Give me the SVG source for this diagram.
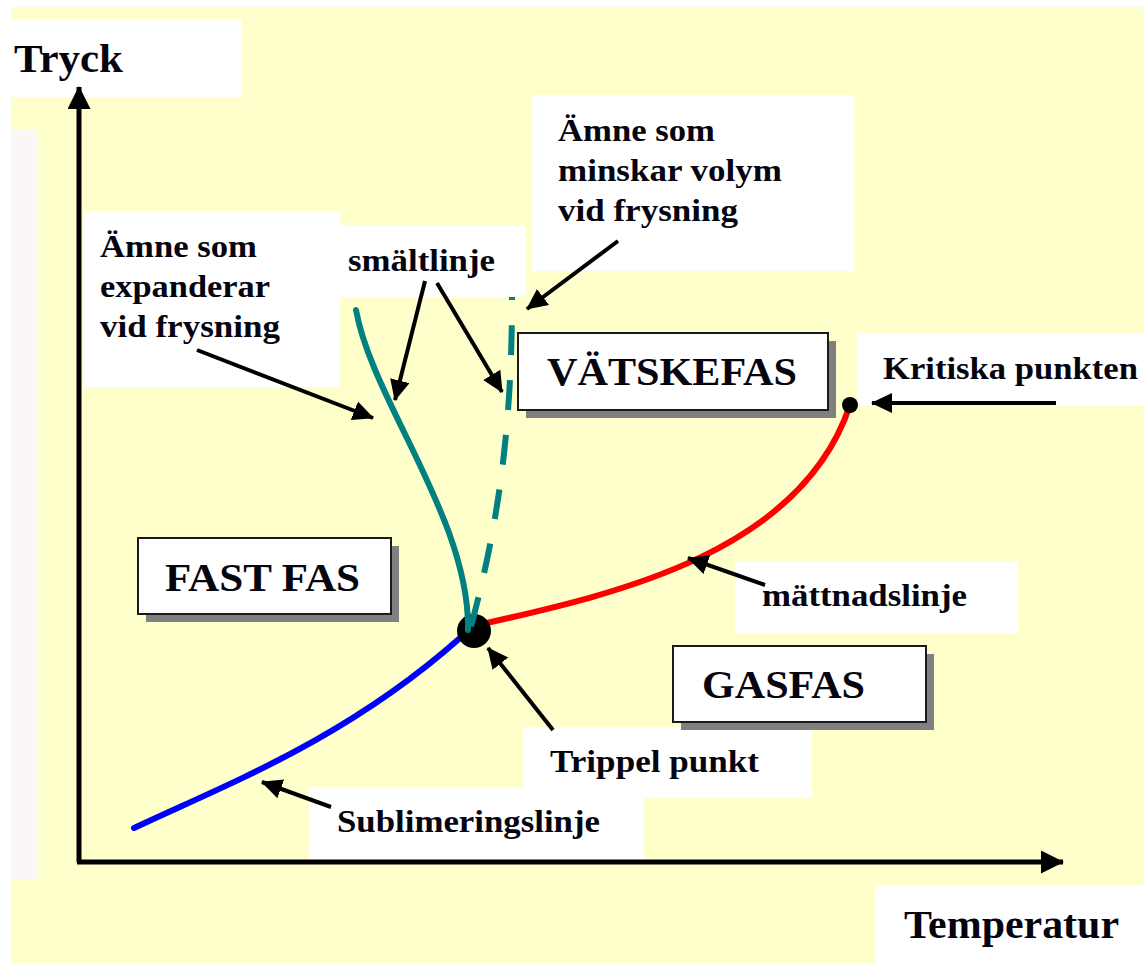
<svg xmlns="http://www.w3.org/2000/svg" width="1144" height="963" viewBox="0 0 1144 963">
<style>
.lbl{font-family:"Liberation Serif","Times New Roman",serif;font-weight:bold;font-size:31px;fill:#050510}
.big{font-family:"Liberation Serif","Times New Roman",serif;font-weight:bold;font-size:41px;fill:#050510}
.wb{fill:#ffffff}
.phase{fill:#ffffff;stroke:#1a1a1a;stroke-width:2}
.shadow{fill:#808080}
.arr{stroke:#000;stroke-width:4;fill:none;marker-end:url(#ah)}
.axis{stroke:#000;stroke-width:5;fill:none}
.teal{stroke:#008080;stroke-width:6;fill:none}
</style>
<defs>
<marker id="ah" markerUnits="userSpaceOnUse" markerWidth="22" markerHeight="22" refX="20" refY="10" orient="auto">
<path d="M0,0 L21,10 L0,20 z" fill="#000"/>
</marker>
<marker id="axh" markerUnits="userSpaceOnUse" markerWidth="24" markerHeight="24" refX="22" refY="11.5" orient="auto">
<path d="M0,0 L23,11.5 L0,23 z" fill="#000"/>
</marker>
</defs>
<rect x="0" y="0" width="1144" height="963" fill="#ffffff"/>
<rect x="11" y="7" width="1133" height="956" fill="#ffffcc"/>
<rect x="11" y="129" width="26" height="751" fill="#faf7f6"/>

<g id="label-boxes">
<rect class="wb" x="11" y="19" width="231" height="78"/>
<rect class="wb" x="83" y="211" width="257" height="176"/>
<rect class="wb" x="340" y="225" width="186" height="72"/>
<rect class="wb" x="532" y="95" width="322" height="176"/>
<rect class="wb" x="857" y="333" width="287" height="72"/>
<rect class="wb" x="735" y="562" width="283" height="71"/>
<rect class="wb" x="523" y="727" width="289" height="71"/>
<rect class="wb" x="309" y="787" width="335" height="73"/>
<rect class="wb" x="875" y="885" width="269" height="78"/>
</g>

<g id="axes">
<path class="axis" d="M79,862 L79,87" marker-end="url(#axh)"/>
<path class="axis" d="M77,862 L1063,862" marker-end="url(#axh)"/>
</g>

<g id="connectors">
<path d="M134,828 C225,785 345,740 460,638" stroke="#0000ff" stroke-width="6" fill="none" stroke-linecap="round"/>
<path d="M478,625 C610,595 800,555 850,405" stroke="#ff0000" stroke-width="6" fill="none"/>
<circle cx="474" cy="631" r="17" fill="#000"/>
<path class="teal" d="M356,310 C372,400 470,520 468,630" stroke-linecap="round"/>
<path class="teal" d="M512,297 C512,420 500,520 470,630" stroke-dasharray="30 25" stroke-dashoffset="27"/>
<circle cx="850" cy="405" r="8" fill="#000"/>
<path class="arr" d="M197,350 L373,418"/>
<path class="arr" d="M425,281 L395,400"/>
<path class="arr" d="M437,283 L502,392"/>
<path class="arr" d="M618,241 L527,309"/>
<path class="arr" d="M1056,403 L872,403"/>
<path class="arr" d="M765,585 L688,558"/>
<path class="arr" d="M553,730 L488,648"/>
<path class="arr" d="M331,807 L262,782"/>
</g>

<g id="node-fast">
<rect class="shadow" x="146" y="546" width="253" height="76"/>
<rect class="phase" x="138" y="538" width="253" height="76"/>
<text class="big" x="165" y="591" textLength="195" lengthAdjust="spacingAndGlyphs">FAST FAS</text>
</g>
<g id="node-vatske">
<rect class="shadow" x="526" y="341" width="310" height="77"/>
<rect class="phase" x="518" y="333" width="310" height="77"/>
<text class="big" x="547" y="385" textLength="250" lengthAdjust="spacingAndGlyphs">VÄTSKEFAS</text>
</g>
<g id="node-gas">
<rect class="shadow" x="681" y="654" width="253" height="76"/>
<rect class="phase" x="673" y="646" width="253" height="76"/>
<text class="big" x="702" y="698" textLength="163" lengthAdjust="spacingAndGlyphs">GASFAS</text>
</g>

<g id="node-tryck"><text class="big" x="14" y="72" textLength="109" lengthAdjust="spacingAndGlyphs">Tryck</text></g>
<g id="node-temperatur"><text class="big" x="904" y="938" textLength="215" lengthAdjust="spacingAndGlyphs">Temperatur</text></g>
<g id="node-expanderar">
<text class="lbl" x="100" y="257" textLength="157" lengthAdjust="spacingAndGlyphs">Ämne som</text>
<text class="lbl" x="100" y="297" textLength="170" lengthAdjust="spacingAndGlyphs">expanderar</text>
<text class="lbl" x="100" y="337" textLength="180" lengthAdjust="spacingAndGlyphs">vid frysning</text>
</g>
<g id="node-smaltlinje">
<text class="lbl" x="348" y="271" textLength="147" lengthAdjust="spacingAndGlyphs">smältlinje</text>
</g>
<g id="node-minskar">
<text class="lbl" x="558" y="141" textLength="157" lengthAdjust="spacingAndGlyphs">Ämne som</text>
<text class="lbl" x="558" y="181" textLength="224" lengthAdjust="spacingAndGlyphs">minskar volym</text>
<text class="lbl" x="558" y="221" textLength="180" lengthAdjust="spacingAndGlyphs">vid frysning</text>
</g>
<g id="node-kritiska">
<text class="lbl" x="883" y="379" textLength="255" lengthAdjust="spacingAndGlyphs">Kritiska punkten</text>
</g>
<g id="node-mattnad">
<text class="lbl" x="762" y="606" textLength="205" lengthAdjust="spacingAndGlyphs">mättnadslinje</text>
</g>
<g id="node-trippel">
<text class="lbl" x="550" y="772" textLength="209" lengthAdjust="spacingAndGlyphs">Trippel punkt</text>
</g>
<g id="node-sublim">
<text class="lbl" x="337" y="832" textLength="263" lengthAdjust="spacingAndGlyphs">Sublimeringslinje</text>
</g>
</svg>
